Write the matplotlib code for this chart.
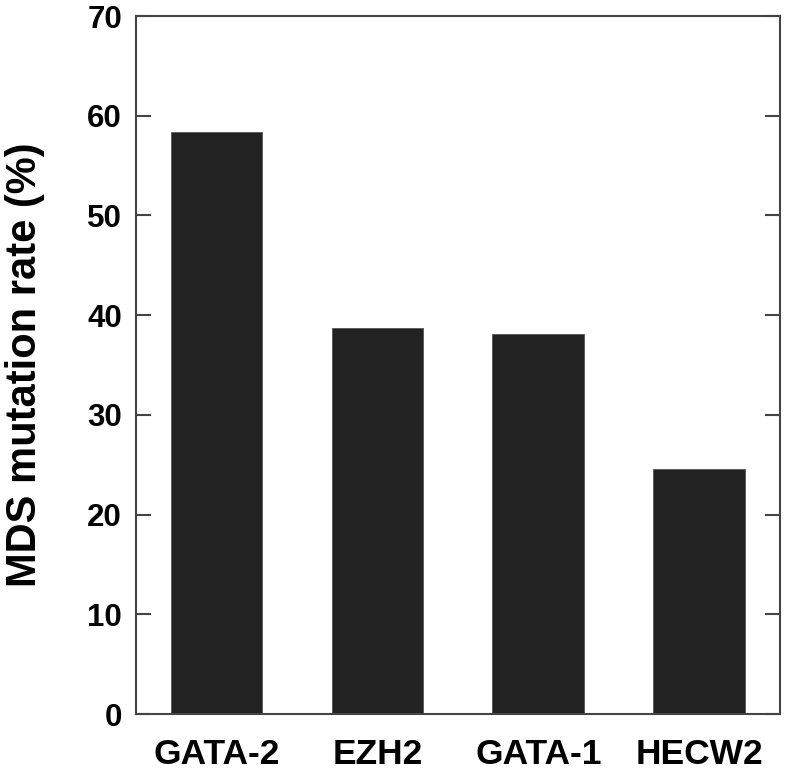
"""Bar chart of MDS mutation rate per gene."""

import matplotlib.pyplot as plt

plt.rcParams["font.family"] = ["Liberation Sans", "DejaVu Sans"]
plt.rcParams["font.weight"] = "bold"

GENES = ["GATA-2", "EZH2", "GATA-1", "HECW2"]
RATES = [58.35, 38.75, 38.15, 24.6]
Y_TICKS = [0, 10, 20, 30, 40, 50, 60, 70]


def main():
    fig = plt.figure(figsize=(7.86, 7.73), dpi=100)
    ax = fig.add_axes([0.173, 0.0763, 0.819, 0.903])

    x = list(range(len(GENES)))
    ax.bar(x, RATES, width=0.57, color="#222222", edgecolor="#555555", linewidth=0.6)

    ax.set_xlim(-0.5, len(GENES) - 0.5)
    ax.set_ylim(0, 70)
    ax.set_yticks(Y_TICKS)
    ax.set_xticks(x)
    ax.set_xticklabels(GENES, fontsize=25.5, fontweight="bold")
    ax.set_yticklabels([str(t) for t in Y_TICKS], fontsize=22.5, fontweight="bold")

    ax.tick_params(axis="x", length=0, pad=17)
    ax.tick_params(axis="y", direction="in", length=11, width=1.5, color="#444444",
                   right=True, pad=10)

    for side in ax.spines.values():
        side.set_color("#444444")
        side.set_linewidth(1.5)

    ax.set_ylabel("MDS mutation rate (%)", fontsize=30, fontweight="bold")
    ax.yaxis.set_label_coords(-0.141, 0.5)

    fig.savefig("out.png", dpi=100)


if __name__ == "__main__":
    main()
